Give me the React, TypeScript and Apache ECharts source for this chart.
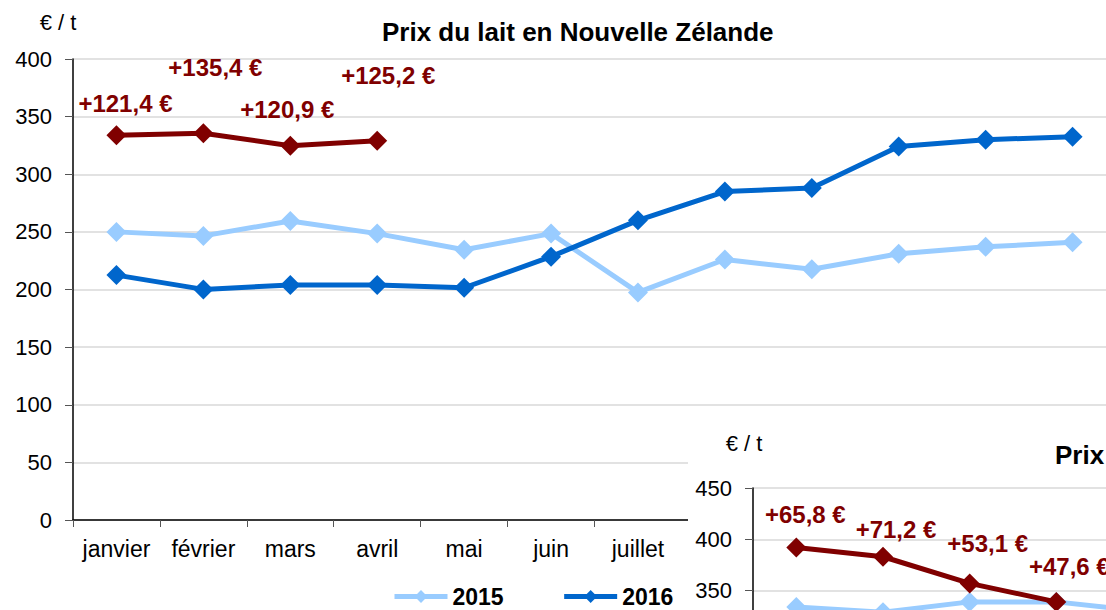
import React, { useEffect, useRef } from "react";
import * as echarts from "echarts";

const months = ["janvier", "février", "mars", "avril", "mai", "juin", "juillet", "août", "septembre", "octobre", "novembre", "décembre"];
const yTicks = { min: 0, max: 400, interval: 50 };
const prix2015 = [250, 246.5, 259.5, 248.5, 234.5, 248.5, 197.5, 226, 217.5, 231, 237, 241];
const prix2016 = [212.5, 200.1, 203.9, 203.9, 201.5, 228.5, 260, 285, 288, 324, 330, 332.6];
const prix2017 = [333.9, 335.5, 324.8, 329.1];
const ecarts = ["+121,4 €", "+135,4 €", "+120,9 €", "+125,2 €"];
const ecartOffsets = [[9, -32], [12, -66], [-3, -36], [11, -65]];

const insetTicks = { min: 300, max: 450, interval: 50 };
const inset2015 = [334, 329, 339, 339, 330];
const inset2016 = [326.2, 311.8, 303.9, 291.4];
const inset2017 = [392, 383, 357, 339];
const insetEcarts = ["+65,8 €", "+71,2 €", "+53,1 €", "+47,6 €"];
const insetOffsets = [[9, -33], [13, -27], [18, -40], [13, -35]];

const FONT = "'Liberation Sans', Arial, sans-serif";
const C15 = "#99CCFF";
const C16 = "#0066CC";
const C17 = "#800000";

function lineSeries(name: string, data: number[], color: string, z: number) {
  return {
    name,
    type: "line",
    data,
    symbol: "diamond",
    symbolSize: 20,
    z,
    lineStyle: { color, width: 5 },
    itemStyle: { color },
  };
}

function labeledSeries(name: string, values: number[], labels: string[], offsets: number[][], z: number) {
  return {
    ...lineSeries(name, [] as number[], C17, z),
    data: values.map((v, i) => ({
      value: v,
      label: { show: true, formatter: labels[i], offset: offsets[i] },
    })),
    label: {
      show: true,
      position: "inside",
      color: C17,
      fontFamily: FONT,
      fontWeight: "bold",
      fontSize: 24,
    },
  };
}

function axes(
  left: number,
  top: number,
  width: number,
  height: number,
  ticks: { min: number; max: number; interval: number },
  visibleMonths: number,
  showMinY: boolean
) {
  return {
    grid: { left, top, width, height },
    xAxis: {
      type: "category",
      data: months,
      boundaryGap: true,
      axisLine: { lineStyle: { color: "#000", width: 1.5 } },
      axisTick: { show: true, length: 7, lineStyle: { color: "#555" } },
      axisLabel: {
        show: visibleMonths > 0,
        color: "#000",
        fontFamily: FONT,
        fontSize: 23,
        margin: 17,
        interval: (i: number) => i < visibleMonths,
      },
      splitLine: { show: false },
    },
    yAxis: {
      type: "value",
      min: ticks.min,
      max: ticks.max,
      interval: ticks.interval,
      axisLine: { show: true, lineStyle: { color: "#000", width: 1.5 } },
      axisTick: { show: true, length: 8, lineStyle: { color: "#555" } },
      axisLabel: { color: "#000", fontFamily: FONT, fontSize: 22, margin: 21, showMinLabel: showMinY },
      splitLine: { lineStyle: { color: "#d9d9d9", width: 1.5 } },
    },
  };
}

export default function App() {
  const mainRef = useRef<HTMLDivElement>(null);
  const insetRef = useRef<HTMLDivElement>(null);

  useEffect(() => {
    const main = echarts.init(mainRef.current!, null, { renderer: "svg" });
    main.setOption({
      animation: false,
      ...axes(73, 59, 1043, 461, yTicks, 7, true),
      title: {
        text: "Prix du lait en Nouvelle Zélande",
        left: 377,
        top: 14,
        textStyle: { fontFamily: FONT, fontSize: 26, fontWeight: "bold", color: "#000" },
      },
      graphic: [
        {
          type: "text",
          x: 58,
          y: 22,
          style: { text: "€ / t", fontFamily: FONT, fontSize: 22, fill: "#000", textAlign: "center", textVerticalAlign: "middle" },
        },
      ],
      legend: {
        data: ["2015", "2016"],
        left: 392,
        top: 585,
        itemWidth: 53,
        itemHeight: 16,
        itemGap: 58,
        padding: 0,
        lineStyle: { width: 5 },
        textStyle: { fontFamily: FONT, fontSize: 23, fontWeight: "bold", color: "#000" },
      },
      series: [
        lineSeries("2015", prix2015, C15, 2),
        lineSeries("2016", prix2016, C16, 3),
        labeledSeries("2017", prix2017, ecarts, ecartOffsets, 4),
      ],
    });

    const inset = echarts.init(insetRef.current!, null, { renderer: "svg" });
    inset.setOption({
      animation: false,
      ...axes(65, 70, 1040, 153.9, insetTicks, 0, false),
      graphic: [
        {
          type: "text",
          x: 56,
          y: 25,
          style: { text: "€ / t", fontFamily: FONT, fontSize: 22, fill: "#000", textAlign: "center", textVerticalAlign: "middle" },
        },
        {
          type: "text",
          x: 367,
          y: 37,
          style: { text: "Prix", fontFamily: FONT, fontSize: 26, fontWeight: "bold", fill: "#000", textAlign: "left", textVerticalAlign: "middle" },
        },
      ],
      series: [
        lineSeries("2016", inset2016, C16, 2),
        lineSeries("2015", inset2015, C15, 3),
        labeledSeries("2017", inset2017, insetEcarts, insetOffsets, 4),
      ],
    });

    return () => {
      main.dispose();
      inset.dispose();
    };
  }, []);

  return (
    <div style={{ position: "absolute", left: 0, top: 0, width: 1106, height: 610, overflow: "hidden", background: "#fff" }}>
      <div ref={mainRef} style={{ position: "absolute", left: 0, top: 0, width: 1150, height: 640 }} />
      <div style={{ position: "absolute", left: 688, top: 418, width: 418, height: 192, background: "#fff", overflow: "hidden" }}>
        <div ref={insetRef} style={{ position: "absolute", left: 0, top: 0, width: 1150, height: 300 }} />
      </div>
    </div>
  );
}
